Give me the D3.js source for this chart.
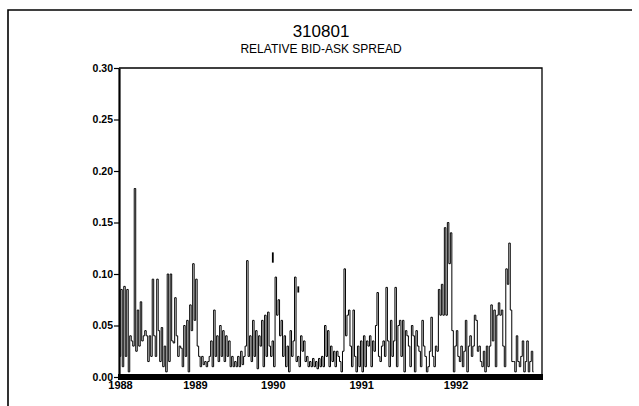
<html>
  <body style="margin:0;background:#fff;">
    <style>
      text {
        font-family: "Liberation Sans", Arial, sans-serif;
        fill: #000;
      }
      .series {
        fill: none;
        stroke: #000;
        stroke-width: 1px;
      }
      .axisY text, .axisX text {
        font-size: 10.5px;
        font-weight: bold;
      }
      .axisY line {
        stroke: #000;
        stroke-width: 1.2px;
      }
    </style>
    <script src="https://d3js.org/d3.v7.min.js"></script>
    <script type="text/javascript">
      // relative bid-ask spread, one array per year
      var years = ["1988", "1989", "1990", "1991", "1992"];

      var spread1988 = [0.02, 0.085, 0.01, 0.088, 0.02, 0.085, 0.005, 0.04, 0.035, 0.03,
        0.183, 0.025, 0.065, 0.03, 0.073, 0.035, 0.04, 0.045, 0.04, 0.015,
        0.04, 0.02, 0.095, 0.04, 0.02, 0.095, 0.045, 0.015, 0.048, 0.01,
        0.03, 0.005, 0.1, 0.015, 0.1, 0.035, 0.033, 0.077, 0.04, 0.02,
        0.03, 0.028, 0.01, 0.05, 0.02, 0.055, 0.005, 0.07, 0.045, 0.11];

      var spread1989 = [0.055, 0.095, 0.03, 0.02, 0.01, 0.02, 0.012, 0.015, 0.01, 0.015,
        0.02, 0.035, 0.01, 0.065, 0.02, 0.04, 0.015, 0.05, 0.02, 0.045,
        0.015, 0.04, 0.02, 0.035, 0.01, 0.02, 0.01, 0.015, 0.01, 0.02,
        0.01, 0.025, 0.012, 0.02, 0.03, 0.113, 0.02, 0.04, 0.015, 0.055,
        0.02, 0.045, 0.008, 0.04, 0.03, 0.055, 0.01, 0.06, 0.02, 0.063,
        0.03, 0.02];

      var spread1990 = [0.035, 0.01, 0.097, 0.06, 0.075, 0.04, 0.055, 0.02, 0.04, 0.01,
        0.03, 0.005, 0.045, 0.02, 0.035, 0.097, 0.015, 0.02, 0.01, 0.04,
        0.025, 0.035, 0.015, 0.02, 0.01, 0.015, 0.01, 0.018, 0.01, 0.015,
        0.008, 0.018, 0.01, 0.02, 0.01, 0.05, 0.02, 0.045, 0.01, 0.03,
        0.015, 0.025, 0.01, 0.025, 0.02, 0.015, 0.005, 0.025, 0.105, 0.04,
        0.06, 0.065, 0.03, 0.01, 0.065, 0.02, 0.005, 0.03, 0.01];

      var spread1991 = [0.035, 0.005, 0.04, 0.01, 0.035, 0.03, 0.04, 0.01, 0.035, 0.025,
        0.05, 0.082, 0.02, 0.015, 0.03, 0.035, 0.02, 0.087, 0.035, 0.01,
        0.055, 0.02, 0.035, 0.087, 0.01, 0.05, 0.055, 0.02, 0.055, 0.005,
        0.045, 0.04, 0.03, 0.01, 0.05, 0.04, 0.005, 0.045, 0.03, 0.025,
        0.01, 0.055, 0.03, 0.02, 0.005, 0.01, 0.025, 0.058, 0.02, 0.01,
        0.03, 0.025, 0.085, 0.06, 0.09, 0.06, 0.145, 0.06, 0.15, 0.11,
        0.14, 0.045, 0.005];

      var spread1992 = [0.03, 0.045, 0.02, 0.015, 0.03, 0.01, 0.025, 0.055, 0.005, 0.03,
        0.04, 0.02, 0.03, 0.06, 0.055, 0.025, 0.03, 0.015, 0.01, 0.025,
        0.005, 0.03, 0.01, 0.03, 0.07, 0.035, 0.065, 0.01, 0.06, 0.072,
        0.06, 0.065, 0.03, 0.01, 0.105, 0.09, 0.13, 0.065, 0.015, 0.015,
        0.005, 0.04, 0.015, 0.01, 0.02, 0.035, 0.005, 0.015, 0.035, 0.005,
        0.015, 0.025, 0.005];

      // loose segments floating above the line (observation index, low, high)
      var fragIndex = [102, 119];
      var fragLow = [0.111, 0.082];
      var fragHigh = [0.121, 0.088];

      var yTicks = [0, 0.05, 0.10, 0.15, 0.20, 0.25, 0.30];

      var perYear = [spread1988, spread1989, spread1990, spread1991, spread1992];
      var values = d3.merge(perYear);
      var yearStart = [], n = 0;
      perYear.forEach(function(a) { yearStart.push(n); n += a.length; });

      var W = 639, H = 406;
      var plot = {left: 119, right: 542, top: 68, bottom: 377};

      var svg = d3.select("body").append("svg")
        .attr("width", W)
        .attr("height", H);

      svg.append("rect").attr("width", W).attr("height", H).attr("fill", "#fff");

      // page frame (only top and left edges visible)
      svg.append("path")
        .attr("d", "M8," + H + "L8,10L632,10")
        .attr("fill", "none")
        .attr("stroke", "#000")
        .attr("stroke-width", 1.6);

      // titles
      svg.append("text")
        .attr("x", 321).attr("y", 37)
        .attr("text-anchor", "middle")
        .style("font-size", "17px")
        .text("310801");
      svg.append("text")
        .attr("x", 321).attr("y", 52.5)
        .attr("text-anchor", "middle")
        .style("font-size", "12px")
        .text("RELATIVE BID-ASK SPREAD");

      var x = d3.scaleLinear()
        .domain([0, values.length - 1])
        .range([120, 533.5]);

      var y = d3.scaleLinear()
        .domain([0, 0.30])
        .range([plot.bottom, plot.top]);

      // top and right border of the plot box
      svg.append("path")
        .attr("d", "M" + plot.left + "," + plot.top + "H" + plot.right + "V" + plot.bottom)
        .attr("fill", "none")
        .attr("stroke", "#000")
        .attr("stroke-width", 1.3);

      // step line gives the vertical spikes of the original print
      var valueline = d3.line()
        .x(function(d, i) { return x(i); })
        .y(function(d) { return y(d); })
        .curve(d3.curveStep);

      svg.append("path")
        .datum(values)
        .attr("class", "series")
        .attr("d", valueline);

      svg.selectAll(".frag")
        .data(fragIndex)
        .enter().append("line")
        .attr("class", "frag")
        .attr("x1", function(d) { return x(d); })
        .attr("x2", function(d) { return x(d); })
        .attr("y1", function(d, i) { return y(fragLow[i]); })
        .attr("y2", function(d, i) { return y(fragHigh[i]); })
        .attr("stroke", "#000")
        .attr("stroke-width", 1.8);

      // y axis
      var gy = svg.append("g")
        .attr("class", "axisY")
        .attr("transform", "translate(" + plot.left + ",0)")
        .call(d3.axisLeft(y)
          .tickValues(yTicks)
          .tickFormat(d3.format(".2f"))
          .tickSize(5)
          .tickSizeOuter(0)
          .tickPadding(1));
      gy.select(".domain")
        .attr("stroke", "#000")
        .attr("stroke-width", 2.2);

      // thick bottom axis bar
      svg.append("line")
        .attr("x1", plot.left - 1).attr("x2", plot.right + 1)
        .attr("y1", plot.bottom).attr("y2", plot.bottom)
        .attr("stroke", "#000")
        .attr("stroke-width", 6);

      // year labels at the first observation of each year
      var gx = svg.append("g")
        .attr("class", "axisX")
        .attr("transform", "translate(0," + (plot.bottom + 3) + ")")
        .call(d3.axisBottom(x)
          .tickValues(yearStart)
          .tickFormat(function(d, i) { return years[i]; })
          .tickSize(0)
          .tickPadding(1));
      gx.select(".domain").remove();
      gx.selectAll("text").style("font-size", "11px");
    </script>
  </body>
</html>
